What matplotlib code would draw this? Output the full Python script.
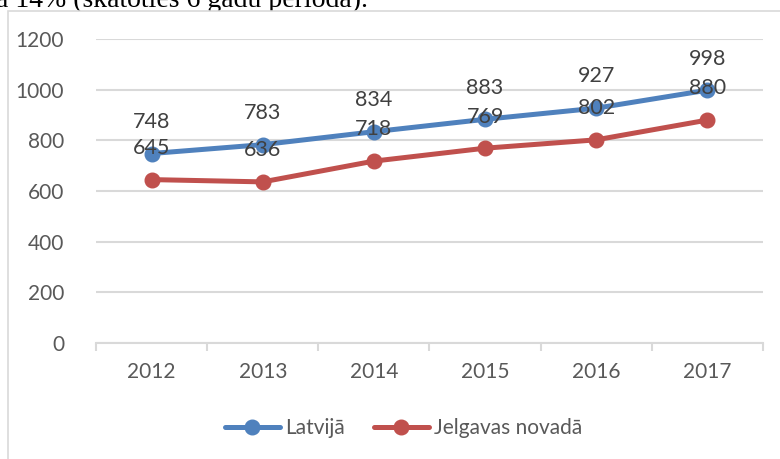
import matplotlib
matplotlib.use('Agg')
import matplotlib.pyplot as plt
from matplotlib.patches import Rectangle

years = ['2012', '2013', '2014', '2015', '2016', '2017']
latvija = [748, 783, 834, 883, 927, 998]
jelgava = [645, 636, 718, 769, 802, 880]
y_ticks = [0, 200, 400, 600, 800, 1000, 1200]

blue = '#4f81bd'
red = '#c0504d'
grid_color = '#d9d9d9'
text_color = '#595959'
label_color = '#404040'

plt.rcParams['font.family'] = ['Lato', 'DejaVu Sans']

fig = plt.figure(figsize=(7.8, 4.59), dpi=100)
W, H = 780, 459

# bit of the surrounding document text, partly hidden behind the chart
fig.text(-4 / W, 1 - 7 / H, 'a 14% (skatoties 6 gadu periodā).',
         family='Liberation Serif', fontsize=20, color='black',
         ha='left', va='baseline', zorder=0)

# chart frame (runs off the right and bottom of the crop)
fig.patches.append(Rectangle((8 / W, -0.2), 2, 1.2 - 10.7 / H,
                             transform=fig.transFigure, fc='white',
                             ec=grid_color, lw=1.2, zorder=0.5))

ax = fig.add_axes([96 / W, 1 - 343 / H, 667 / W, 304 / H])
ax.set_zorder(1)
x = list(range(len(years)))

for vals, color, name in [(latvija, blue, 'Latvijā'), (jelgava, red, 'Jelgavas novadā')]:
    ax.plot(x, vals, color=color, lw=3.6, marker='o', ms=10.5,
            solid_capstyle='round', label=name, zorder=3)
    for xi, v in zip(x, vals):
        ax.annotate(str(v), (xi, v), xytext=(0, 22.8), textcoords='offset points',
                    ha='center', va='center', fontsize=15.5, color=label_color,
                    zorder=4)

ax.set_xlim(-0.5, len(years) - 0.5)
ax.set_ylim(0, 1200)
ax.set_yticks(y_ticks)
ax.set_yticklabels([str(t) for t in y_ticks])
ax.set_xticks(x)
ax.set_xticklabels(years)
ax.grid(axis='y', color=grid_color, lw=1.5)
ax.set_axisbelow(True)

for s in ['top', 'right', 'left']:
    ax.spines[s].set_visible(False)
ax.spines['bottom'].set_color(grid_color)
ax.spines['bottom'].set_linewidth(1.5)

ax.tick_params(axis='y', length=0, pad=23, labelsize=15, labelcolor=text_color)
ax.tick_params(axis='x', which='major', length=0, pad=14, labelsize=15,
               labelcolor=text_color)
ax.set_xticks([i - 0.5 for i in range(len(years) + 1)], minor=True)
ax.tick_params(axis='x', which='minor', length=6, width=1.5, color=grid_color)

fig.legend(loc='center', bbox_to_anchor=(403.5 / W, 1 - 428 / H), ncol=2,
           frameon=False, fontsize=15, handlelength=2.65, handletextpad=0.25,
           columnspacing=1.4, labelcolor=text_color)

fig.savefig('out.png', dpi=100)
